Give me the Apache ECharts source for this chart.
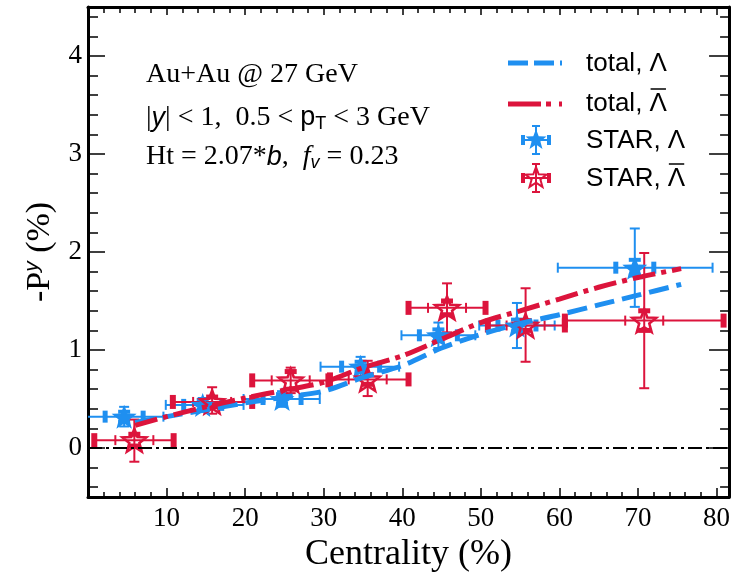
<!DOCTYPE html>
<html><head><meta charset="utf-8">
<script src="https://cdn.jsdelivr.net/npm/echarts@6/dist/echarts.min.js"></script>
<style>html,body{margin:0;padding:0;background:#fff}#c{width:733px;height:579px}</style>
</head><body><div id="c"></div>
<script>
// ---------------- data ----------------
const xMin = 0, xMax = 81.6, yMin = -0.5, yMax = 4.5;
const xTickMajor = [10, 20, 30, 40, 50, 60, 70, 80];
const xTickMinor = [2, 4, 6, 8, 12, 14, 16, 18, 22, 24, 26, 28, 32, 34, 36, 38, 42, 44, 46, 48, 52, 54, 56, 58, 62, 64, 66, 68, 72, 74, 76, 78];
const yTickMajor = [0, 1, 2, 3, 4];
const yTickMinor = [-0.4, -0.2, 0.2, 0.4, 0.6, 0.8, 1.2, 1.4, 1.6, 1.8, 2.2, 2.4, 2.6, 2.8, 3.2, 3.4, 3.6, 3.8, 4.2, 4.4];

// STAR Lambda
const lamX    = [4.6, 14.6, 24.7, 34.7, 44.6, 54.6, 69.6];
const lamY    = [0.32, 0.44, 0.50, 0.83, 1.15, 1.25, 1.84];
const lamXLo  = [-0.4, 9.9, 19.8, 29.6, 39.9, 49.8, 59.8];
const lamXHi  = [9.6, 19.8, 29.5, 39.6, 49.3, 59.4, 79.5];
const lamYErr = [0.10, 0.07, 0.08, 0.10, 0.13, 0.23, 0.40];
const lamSys  = [0.05, 0.05, 0.05, 0.05, 0.06, 0.06, 0.08];

// STAR anti-Lambda
const alamX     = [5.9, 15.8, 25.8, 35.6, 45.7, 55.7, 70.8];
const alamY     = [0.08, 0.47, 0.69, 0.70, 1.43, 1.25, 1.30];
const alamXLo   = [0.8, 10.8, 20.9, 30.8, 40.8, 50.9, 60.7];
const alamXHi   = [10.9, 20.9, 30.6, 40.8, 50.6, 60.7, 80.9];
const alamYUp   = [0.21, 0.15, 0.13, 0.19, 0.25, 0.38, 0.69];
const alamYDown = [0.22, 0.12, 0.13, 0.17, 0.25, 0.37, 0.69];
const alamSys   = [0.06, 0.05, 0.09, 0.05, 0.07, 0.05, 0.10];

// model curves
const curveX    = [6, 10, 15, 20, 25, 30, 35, 40, 45, 50, 55, 60, 65, 70, 75.5];
const totLamY   = [0.26, 0.32, 0.39, 0.46, 0.52, 0.58, 0.72, 0.84, 1.02, 1.16, 1.27, 1.36, 1.46, 1.56, 1.67];
const totALamY  = [0.23, 0.32, 0.42, 0.51, 0.59, 0.67, 0.82, 0.94, 1.11, 1.28, 1.40, 1.52, 1.64, 1.74, 1.83];

const legendLabels = ['total, Λ', 'total, Λ', 'STAR, Λ', 'STAR, Λ'];

// ---------------- styles ----------------
const BLUE = '#1f8ff0', RED = '#dc143c';
const SERIF = '"Liberation Serif", "Times New Roman", serif';
const SANS = '"Liberation Sans", Arial, sans-serif';
const SYS_HALF = 19;

function starPoints(cx, cy, R, ratio) {
  const pts = [];
  for (let k = 0; k < 10; k++) {
    const r = k % 2 ? R * ratio : R;
    const a = (-90 + 36 * k) * Math.PI / 180;
    pts.push([cx + r * Math.cos(a), cy + r * Math.sin(a)]);
  }
  return pts;
}
const starSym = 'path://' + starPoints(50, 50, 50, 0.42).map((p, i) => (i ? 'L' : 'M') + p[0].toFixed(2) + ',' + p[1].toFixed(2)).join(' ') + ' Z';

function ln(x1, y1, x2, y2, w, c) { return { type: 'line', shape: { x1, y1, x2, y2 }, style: { stroke: c, lineWidth: w } }; }
function rc(cx, cy, w, h, c) { return { type: 'rect', shape: { x: cx - w / 2, y: cy - h / 2, width: w, height: h }, style: { fill: c } }; }

function errRender(kind) {
  return function (params, api) {
    const x = api.value(0), y = api.value(1);
    const xl = api.value(2), xh = api.value(3), yl = api.value(4), yh = api.value(5), sy = api.value(6);
    const c = api.coord([x, y]);
    const pl = api.coord([xl, y]), ph = api.coord([xh, y]);
    const pyl = api.coord([x, yl]), pyh = api.coord([x, yh]);
    const ps1 = api.coord([x, y + sy]), ps2 = api.coord([x, y - sy]);
    const col = kind === 'b' ? BLUE : RED;
    const ch = [];
    ch.push(ln(pl[0], c[1], ph[0], c[1], 2, col));
    ch.push(ln(c[0], pyl[1], c[0], pyh[1], 2, col));
    ch.push(ln(c[0] - 5, pyl[1], c[0] + 5, pyl[1], 2, col));
    ch.push(ln(c[0] - 5, pyh[1], c[0] + 5, pyh[1], 2, col));
    if (kind === 'b') {
      ch.push(ln(pl[0], c[1] - 5, pl[0], c[1] + 5, 2, col));
      ch.push(ln(ph[0], c[1] - 5, ph[0], c[1] + 5, 2, col));
      ch.push(rc(c[0] - SYS_HALF, c[1], 5, 12, col));
      ch.push(rc(c[0] + SYS_HALF, c[1], 5, 12, col));
      ch.push(rc(c[0], ps1[1], 12, 4, col));
      ch.push(rc(c[0], ps2[1], 12, 4, col));
    } else {
      ch.push(rc(pl[0], c[1], 6, 14, col));
      ch.push(rc(ph[0], c[1], 6, 14, col));
      ch.push(ln(c[0] - SYS_HALF, c[1] - 5, c[0] - SYS_HALF, c[1] + 5, 2, col));
      ch.push(ln(c[0] + SYS_HALF, c[1] - 5, c[0] + SYS_HALF, c[1] + 5, 2, col));
      ch.push(rc(c[0], ps1[1], 12, 5, col));
      ch.push(rc(c[0], ps2[1], 12, 5, col));
    }
    return { type: 'group', children: ch };
  };
}

const lamErrData = lamX.map((x, i) => [x, lamY[i], lamXLo[i], lamXHi[i], lamY[i] - lamYErr[i], lamY[i] + lamYErr[i], lamSys[i]]);
const alamErrData = alamX.map((x, i) => [x, alamY[i], alamXLo[i], alamXHi[i], alamY[i] - alamYDown[i], alamY[i] + alamYUp[i], alamSys[i]]);

function axisBase(extra) {
  return Object.assign({
    type: 'value', splitLine: { show: false },
    axisLine: { show: false, onZero: false }, axisLabel: { show: false },
    axisTick: { show: false }
  }, extra);
}
function tick(vals, len) {
  return { show: true, inside: true, length: len, customValues: vals, lineStyle: { color: '#000', width: 1.5 } };
}
const frameLine = { show: true, onZero: false, lineStyle: { color: '#000', width: 3 } };

// text widths for overlines
const cv = document.createElement('canvas').getContext('2d');
cv.font = '26px "Liberation Sans"';
const LEG_X = 586;
const wTotal = cv.measureText('total, ').width, wStar = cv.measureText('STAR, ').width, wL = cv.measureText('Λ').width;

const chart = echarts.init(document.getElementById('c'), null, { renderer: 'canvas' });
const legRows = [64, 104, 141, 179];

function starPoly(cx, cy, R, fill, stroke) {
  return { type: 'polygon', shape: { points: starPoints(cx, cy, R, 0.42) }, style: fill ? { fill: fill } : { fill: 'none', stroke: stroke, lineWidth: 2 }, z: 101 };
}
function legMarker(cx, cy, col, open) {
  return [
    { type: 'line', shape: { x1: cx - 14, y1: cy, x2: cx + 14, y2: cy }, style: { stroke: col, lineWidth: 2 }, z: 100 },
    { type: 'line', shape: { x1: cx, y1: cy - 14, x2: cx, y2: cy + 14 }, style: { stroke: col, lineWidth: 2 }, z: 100 },
    { type: 'rect', shape: { x: cx - 15, y: cy - 5, width: 4, height: 10 }, style: { fill: col }, z: 100 },
    { type: 'rect', shape: { x: cx + 11, y: cy - 5, width: 4, height: 10 }, style: { fill: col }, z: 100 },
    { type: 'line', shape: { x1: cx - 4, y1: cy - 14, x2: cx + 4, y2: cy - 14 }, style: { stroke: col, lineWidth: 2 }, z: 100 },
    { type: 'line', shape: { x1: cx - 4, y1: cy + 14, x2: cx + 4, y2: cy + 14 }, style: { stroke: col, lineWidth: 2 }, z: 100 },
    open ? starPoly(cx, cy, 11, null, col) : starPoly(cx, cy, 11, col)
  ];
}

const graphics = [
  { type: 'text', x: 146, y: 75, z: 100, style: { text: 'Au+Au @ 27 GeV', fontFamily: SERIF, fontSize: 28, fill: '#000', verticalAlign: 'middle' } },
  { type: 'text', x: 146, y: 118, z: 100, style: {
      text: '|{iy|y}| < 1,  0.5 < {sp|p}{sub|T} < 3 GeV', fontFamily: SERIF, fontSize: 28, lineHeight: 30, fill: '#000', verticalAlign: 'middle',
      rich: {
        iy: { fontFamily: SANS, fontStyle: 'italic', fontSize: 27, fill: '#000' },
        sp: { fontFamily: SANS, fontSize: 27, fill: '#000' },
        sub: { fontFamily: SANS, fontSize: 18, fill: '#000', verticalAlign: 'bottom', lineHeight: 18 }
      } } },
  { type: 'text', x: 146, y: 157, z: 100, style: {
      text: 'Ht = 2.07*{ib|b},  {if|f}{isub|v} = 0.23', fontFamily: SERIF, fontSize: 28, lineHeight: 30, fill: '#000', verticalAlign: 'middle',
      rich: {
        ib: { fontFamily: SANS, fontStyle: 'italic', fontSize: 27, fill: '#000' },
        if: { fontFamily: SERIF, fontStyle: 'italic', fontSize: 28, fill: '#000' },
        isub: { fontFamily: SANS, fontStyle: 'italic', fontSize: 18, fill: '#000', verticalAlign: 'bottom', lineHeight: 18 }
      } } },
  { type: 'line', z: 100, shape: { x1: 508, y1: 63, x2: 562, y2: 63 }, style: { stroke: BLUE, lineWidth: 5, lineDash: [20, 6] } },
  { type: 'line', z: 100, shape: { x1: 508, y1: 104, x2: 562, y2: 104 }, style: { stroke: RED, lineWidth: 5, lineDash: [33, 5, 5, 8] } },
  ...legMarker(536, 140, BLUE, false),
  ...legMarker(536, 178, RED, true)
];
legendLabels.forEach((t, i) => {
  graphics.push({ type: 'text', x: LEG_X, y: legRows[i], z: 100, style: { text: t, fontFamily: SANS, fontSize: 26, fill: '#000', verticalAlign: 'middle' } });
});
graphics.push({ type: 'line', z: 100, shape: { x1: LEG_X + wTotal + 1, y1: legRows[1] - 15, x2: LEG_X + wTotal + wL - 1, y2: legRows[1] - 15 }, style: { stroke: '#000', lineWidth: 1.5 } });
graphics.push({ type: 'line', z: 100, shape: { x1: LEG_X + wStar + 1, y1: legRows[3] - 15, x2: LEG_X + wStar + wL - 1, y2: legRows[3] - 15 }, style: { stroke: '#000', lineWidth: 1.5 } });

const option = {
  animation: false,
  backgroundColor: '#fff',
  grid: { left: 88, right: 2, top: 7, bottom: 82, containLabel: false },
  xAxis: [
    axisBase({ position: 'bottom', min: xMin, max: xMax, axisLine: frameLine,
      axisTick: tick(xTickMajor, 9),
      axisLabel: { show: true, customValues: xTickMajor, margin: 8, color: '#000', fontFamily: SERIF, fontSize: 27 },
      name: 'Centrality (%)', nameLocation: 'middle', nameGap: 38,
      nameTextStyle: { color: '#000', fontFamily: SERIF, fontSize: 36 } }),
    axisBase({ position: 'bottom', min: xMin, max: xMax, axisTick: tick(xTickMinor, 5) }),
    axisBase({ position: 'top', min: xMin, max: xMax, axisLine: frameLine, axisTick: tick(xTickMajor, 8) }),
    axisBase({ position: 'top', min: xMin, max: xMax, axisTick: tick(xTickMinor, 6) })
  ],
  yAxis: [
    axisBase({ position: 'left', min: yMin, max: yMax, axisLine: frameLine,
      axisTick: tick(yTickMajor, 17),
      axisLabel: { show: true, customValues: yTickMajor, margin: 6, color: '#000', fontFamily: SERIF, fontSize: 27 },
      name: '-P{sup|y} (%)', nameLocation: 'middle', nameGap: 29, nameRotate: 90,
      nameTextStyle: { color: '#000', fontFamily: SERIF, fontSize: 34, lineHeight: 36,
        rich: { sup: { fontFamily: SANS, fontStyle: 'italic', fontSize: 21, color: '#000', verticalAlign: 'top', lineHeight: 24 } } } }),
    axisBase({ position: 'left', min: yMin, max: yMax, axisTick: tick(yTickMinor, 10) }),
    axisBase({ position: 'right', min: yMin, max: yMax, axisLine: frameLine, axisTick: tick(yTickMajor, 20) }),
    axisBase({ position: 'right', min: yMin, max: yMax, axisTick: tick(yTickMinor, 9) })
  ],
  graphic: { elements: graphics },
  series: [
    { type: 'line', name: 'zero', data: [], symbol: 'none',
      markLine: { silent: true, symbol: 'none', label: { show: false },
        lineStyle: { color: '#000', width: 2, type: [14, 4, 3, 4] }, data: [{ yAxis: 0 }] } },
    { type: 'custom', name: 'lamErr', clip: true, renderItem: errRender('b'), data: lamErrData, encode: { x: 0, y: 1 }, itemStyle: { color: BLUE } },
    { type: 'scatter', name: 'STAR, Λ', data: lamX.map((x, i) => [x, lamY[i]]), symbol: starSym, symbolSize: [25, 24], itemStyle: { color: BLUE, opacity: 1 } },
    { type: 'custom', name: 'alamErr', clip: true, renderItem: errRender('r'), data: alamErrData, encode: { x: 0, y: 1 }, itemStyle: { color: RED } },
    { type: 'scatter', name: 'STAR, aL', data: alamX.map((x, i) => [x, alamY[i]]), symbol: starSym, symbolSize: [24, 23], itemStyle: { color: 'rgba(0,0,0,0)', borderColor: RED, borderWidth: 2.5, opacity: 1 } },
    { type: 'line', name: 'total, Λ', data: curveX.map((x, i) => [x, totLamY[i]]), symbol: 'none', smooth: 0.3,
      lineStyle: { color: BLUE, width: 5, type: [20, 8] } },
    { type: 'line', name: 'total, aL', data: curveX.map((x, i) => [x, totALamY[i]]), symbol: 'none', smooth: 0.3,
      lineStyle: { color: RED, width: 5, type: [23, 6, 5, 6] } }
  ]
};
chart.setOption(option);
</script></body></html>
